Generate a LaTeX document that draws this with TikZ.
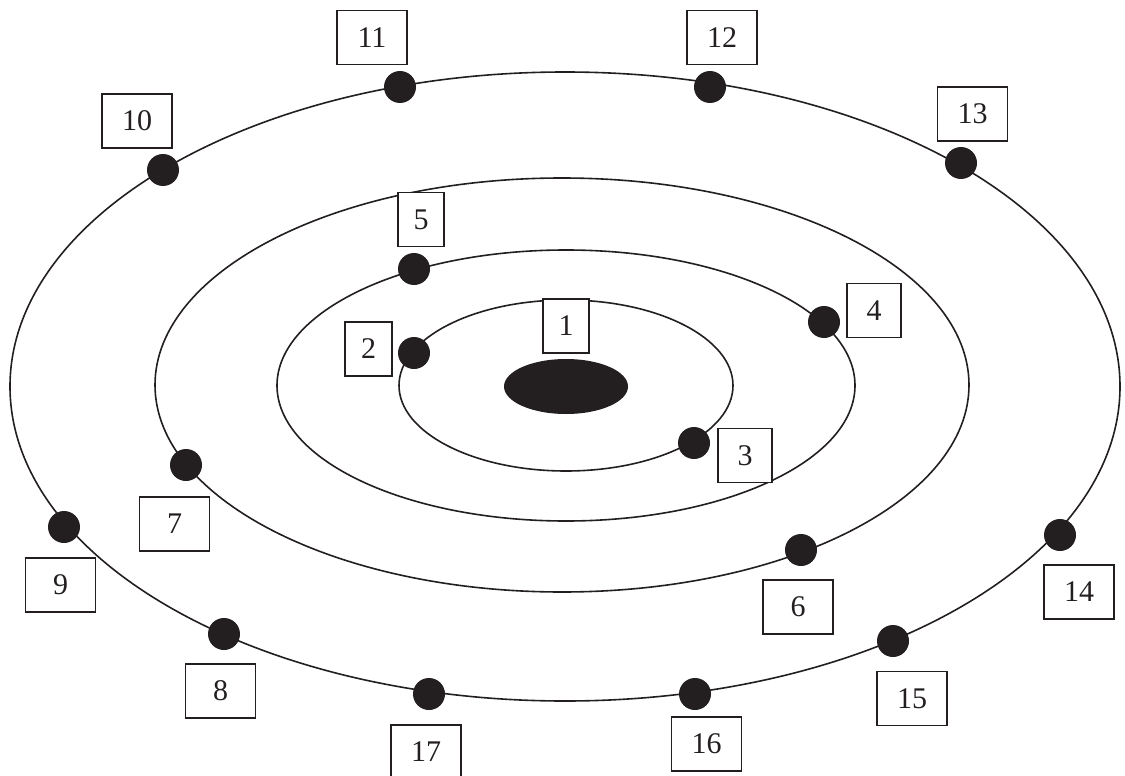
\documentclass[tikz,border=0pt]{standalone}
\usepackage{fontspec}
\setmainfont{Liberation Serif}
\usetikzlibrary{shapes.geometric}
\definecolor{ink}{HTML}{231F20}
\begin{document}
\begin{tikzpicture}[x=1pt,y=-1pt,
  orbit/.style={draw=ink, line width=1.6pt},
  dot/.style={circle, fill=ink, draw=none, inner sep=0pt, minimum size=32pt},
  lbl/.style={draw=ink, fill=white, rectangle, inner sep=0pt, line width=1.3pt,
    minimum height=54pt, text=ink, font=\fontsize{30}{30}\selectfont},
  narrow/.style={lbl, minimum width=46pt},
  mid/.style={lbl, minimum width=54pt},
  wide/.style={lbl, minimum width=70pt}]
\useasboundingbox (0,0) rectangle (1125,776);
\clip (0,0) rectangle (1125,776);
% orbits
\draw[orbit] (566,385.5) ellipse [x radius=167pt, y radius=85.5pt];
\draw[orbit] (566,385.5) ellipse [x radius=289pt, y radius=135.5pt];
\draw[orbit] (562,385) ellipse [x radius=407pt, y radius=207pt];
\draw[orbit] (565,386.5) ellipse [x radius=555pt, y radius=314.5pt];
% nucleus
\node[ellipse, fill=ink, inner sep=0pt, minimum width=124pt, minimum height=55pt] (nucleus) at (566,386.5) {};
% dots
\node[dot] (d2) at (414,353) {};
\node[dot] (d3) at (694,443) {};
\node[dot] (d4) at (824,322) {};
\node[dot] (d5) at (414,269) {};
\node[dot] (d6) at (801,550) {};
\node[dot] (d7) at (186,465) {};
\node[dot] (d8) at (224,634) {};
\node[dot] (d9) at (64,527) {};
\node[dot] (d10) at (163,170) {};
\node[dot] (d11) at (400,87) {};
\node[dot] (d12) at (710,87) {};
\node[dot] (d13) at (961,163) {};
\node[dot] (d14) at (1060,535) {};
\node[dot] (d15) at (893,641) {};
\node[dot] (d16) at (695,694) {};
\node[dot] (d17) at (429,694) {};
% labels
\node[narrow] (l1) at (566,326) {1};
\node[narrow, minimum width=47pt] (l2) at (368.5,349) {2};
\node[mid] (l3) at (745,455.5) {3};
\node[mid] (l4) at (874,310.5) {4};
\node[narrow] (l5) at (421,219.5) {5};
\node[wide] (l6) at (798,607) {6};
\node[wide] (l7) at (174.5,524) {7};
\node[wide] (l8) at (220.5,691) {8};
\node[wide] (l9) at (60.5,585) {9};
\node[wide] (l10) at (137,121) {10};
\node[wide] (l11) at (372,37.5) {11};
\node[wide] (l12) at (722,37.5) {12};
\node[wide] (l13) at (972.5,114) {13};
\node[wide] (l14) at (1079,592) {14};
\node[wide] (l15) at (912,698.5) {15};
\node[wide] (l16) at (706.5,744) {16};
\node[wide] (l17) at (426,752) {17};
\end{tikzpicture}
\end{document}
